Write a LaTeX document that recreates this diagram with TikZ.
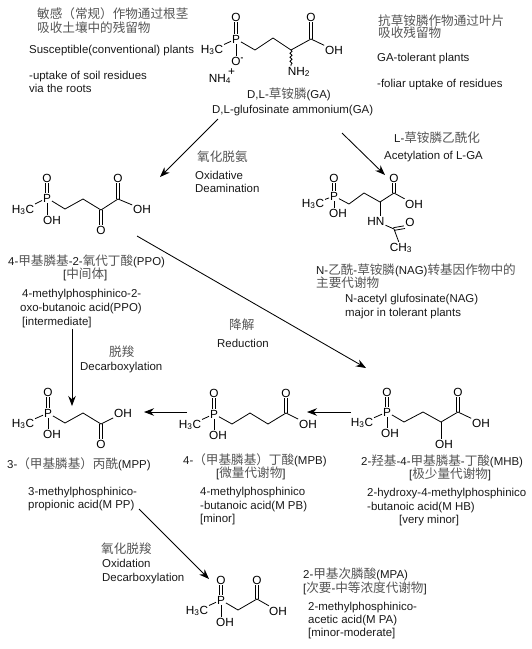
\documentclass[tikz,border=0pt]{standalone}
\usepackage{fontspec}
\setmainfont{Liberation Sans}
\newfontfamily\cjkfam{Noto Sans CJK SC}
\usetikzlibrary{arrows.meta,decorations.pathmorphing}
\definecolor{zhgray}{HTML}{555555}
\definecolor{ink}{HTML}{1A1A1A}
\newcommand\zh[1]{{\cjkfam\fontsize{12.6}{14}\selectfont\color{zhgray}#1}}
\newcommand\sub[1]{\textsubscript{#1}}
\newcommand\dblv[2]{\draw[bond] ([xshift=-1.4]#1) -- ([xshift=-1.4]#2); \draw[bond] ([xshift=1.4]#1) -- ([xshift=1.4]#2);}
\newcommand\T[4]{\node[lbl] (#1) at (#2,#3) {#4};}
\newcommand\A[4]{\node[atom] (#1) at (#2,#3) {#4};}
\newcommand\C[3]{\coordinate (#1) at (#2,#3);}
\newcommand\Arr[6]{\coordinate (#1s) at (#2,#3); \coordinate (#1e) at (#4,#5); \draw[rxn] (#1s) -- (#1e);}
\tikzset{
  lbl/.style={anchor=west,inner sep=0pt,text height=8pt,text depth=0pt,font=\fontsize{11.45}{13}\selectfont,text=ink},
  atom/.style={anchor=center,inner sep=0.8pt,font=\fontsize{11.8}{13}\selectfont,text=black},
  bond/.style={line width=0.8pt,draw=black},
  rxn/.style={line width=0.85pt,draw=black,-{Stealth[length=10pt,width=7.5pt]}},
}
\begin{document}
\begin{tikzpicture}[x=1pt,y=-1pt]
\useasboundingbox (0,0) rectangle (532,649);
\fill[white] (0,0) rectangle (532,649);

% ---- top-left text
\T{tl1}{37}{14}{\zh{敏感（常规）作物通过根茎}}
\T{tl2}{37}{28}{\zh{吸收土壤中的残留物}}
\T{tl3}{29}{49}{Susceptible(conventional) plants}
\T{tl4}{29}{75}{-uptake of soil residues}
\T{tl5}{29}{88}{via the roots}

% ---- top-right text
\T{tr1}{378}{21}{\zh{抗草铵膦作物通过叶片}}
\T{tr2}{378}{33}{\zh{吸收残留物}}
\T{tr3}{377}{57}{GA-tolerant plants}
\T{tr4}{377}{83}{-foliar uptake of residues}

% ---- GA
\A{gaP}{236}{39}{P}
\A{gaO}{236}{17}{O}
\A{gaOm}{236}{61}{O\rlap{\textsuperscript{\textbf{-}}}}
\A{gaMe}{212}{50}{H\sub{3}C}
\C{ga1}{255}{50}\C{ga2}{273}{38}\C{ga3}{291}{50}\C{ga4}{311}{39}
\A{gaO2}{311}{17}{O}
\A{gaOH}{334}{50}{OH}
\A{gaN}{299}{72}{NH\sub{2}}
\A{gaNH}{220}{79}{NH\sub{4}\rlap{\hspace{-3pt}\smash{\raisebox{1.0ex}{+}}}}
\draw[bond] (gaP) -- (gaMe);
\dblv{gaO.south}{gaP.north}
\draw[bond] (gaP) -- (gaOm);
\draw[bond] (gaP) -- (ga1) -- (ga2) -- (ga3) -- (ga4) -- (gaOH);
\dblv{gaO2.south}{ga4}
\draw[bond,decorate,decoration={snake,amplitude=1.1pt,segment length=4pt}] (ga3) -- (ga3|-gaN.north);
\T{ga5}{247}{94}{D,L-\zh{草铵膦}(GA)}
\T{ga6}{212}{109}{D,L-glufosinate ammonium(GA)}

% ---- reaction arrows (top)
\Arr{ar1}{218}{119}{160}{177}{}
\Arr{ar2}{342}{133}{385}{175}{}
\T{oa1}{197}{157}{\zh{氧化脱氨}}
\T{oa2}{195}{175}{Oxidative}
\T{oa3}{195}{188}{Deamination}
\T{ac1}{394}{138}{L-\zh{草铵膦乙酰化}}
\T{ac2}{384}{155}{Acetylation of L-GA}

% ---- PPO
\A{ppP}{47}{198}{P}
\A{ppO}{47}{178}{O}
\A{ppMe}{23}{210}{H\sub{3}C}
\A{ppOHp}{52}{220}{OH}
\C{pp1}{65}{209}\C{pp2}{83}{199}\C{pp3}{101}{210}\C{pp4}{118}{199}
\A{ppOH}{142}{209}{OH}
\A{ppO2}{118}{178}{O}
\A{ppO3}{101}{230}{O}
\draw[bond] (ppP) -- (ppMe);
\dblv{ppO.south}{ppP.north}
\draw[bond] (ppP.south) -- (ppP.south|-ppOHp.north);
\draw[bond] (ppP) -- (pp1) -- (pp2) -- (pp3) -- (pp4) -- (ppOH);
\dblv{ppO2.south}{pp4}
\dblv{pp3}{ppO3.north}
\T{pp5}{8}{261}{4-\zh{甲基膦基}-2-\zh{氧代丁酸}(PPO)}
\T{pp6}{63}{274}{[\zh{中间体}]}
\T{pp7}{22}{293}{4-methylphosphinico-2-}
\T{pp8}{20}{307}{oxo-butanoic acid(PPO)}
\T{pp9}{22}{321}{[intermediate]}

% ---- NAG
\A{naP}{334}{196}{P}
\A{naO}{334}{178}{O}
\A{naMe}{313}{204}{H\sub{3}C}
\A{naOHp}{338}{213}{OH}
\C{na1}{349}{204}\C{na2}{364}{193}\C{na3}{380}{202}\C{na4}{394}{193}
\A{naOH}{414}{204}{OH}
\A{naO2}{394}{178}{O}
\A{naN}{376}{221}{HN}
\C{na5}{394}{229}
\A{naO3}{410}{222}{O}
\A{naCH}{401}{248}{CH\sub{3}}
\draw[bond] (naP) -- (naMe);
\dblv{naO.south}{naP.north}
\draw[bond] (naP.south) -- (naP.south|-naOHp.north);
\draw[bond] (naP) -- (na1) -- (na2) -- (na3) -- (na4) -- (naOH);
\dblv{naO2.south}{na4}
\draw[bond] (na3) -- (na3|-naN.north);
\draw[bond] (naN) -- (na5) -- (naCH);
\draw[bond] ([shift={(-0.6,-1.3)}]na5) -- ([shift={(-0.6,-1.3)}]naO3.south west);
\draw[bond] ([shift={(0.6,1.3)}]na5) -- ([shift={(0.6,1.3)}]naO3.south west);
\T{na6}{316}{270}{N-\zh{乙酰}-\zh{草铵膦}(NAG)\zh{转基因作物中的}}
\T{na7}{316}{283}{\zh{主要代谢物}}
\T{na8}{345}{298}{N-acetyl glufosinate(NAG)}
\T{na9}{345}{312}{major in tolerant plants}

% ---- Reduction arrow
\Arr{ar3}{137}{236}{366}{368}{}
\T{re1}{229}{325}{\zh{降解}}
\T{re2}{217}{343}{Reduction}

% ---- Decarboxylation arrow
\Arr{ar4}{72}{329}{72}{406}{}
\T{de1}{109}{352}{\zh{脱羧}}
\T{de2}{80}{366}{Decarboxylation}

% ---- MPP
\A{mpP}{48}{413}{P}
\A{mpO}{48}{392}{O}
\A{mpMe}{23}{424}{H\sub{3}C}
\A{mpOHp}{52}{434}{OH}
\C{mp1}{65}{423}\C{mp2}{83}{413}\C{mp3}{101}{424}
\A{mpOH}{123}{413}{OH}
\A{mpO2}{101}{444}{O}
\draw[bond] (mpP) -- (mpMe);
\dblv{mpO.south}{mpP.north}
\draw[bond] (mpP.south) -- (mpP.south|-mpOHp.north);
\draw[bond] (mpP) -- (mp1) -- (mp2) -- (mp3) -- (mpOH);
\dblv{mp3}{mpO2.north}
\T{mp5}{7}{464}{3-\zh{（甲基膦基）丙酰}(MPP)}
\T{mp6}{28}{491}{3-methylphosphinico-}
\T{mp7}{28}{504}{propionic acid(M PP)}

% ---- MPB
\A{mbP}{214}{414}{P}
\A{mbO}{214}{393}{O}
\A{mbMe}{190}{425}{H\sub{3}C}
\A{mbOHp}{218}{435}{OH}
\C{mb1}{232}{424}\C{mb2}{250}{413}\C{mb3}{268}{424}\C{mb4}{286}{413}
\A{mbOH}{308}{424}{OH}
\A{mbO2}{286}{393}{O}
\draw[bond] (mbP) -- (mbMe);
\dblv{mbO.south}{mbP.north}
\draw[bond] (mbP.south) -- (mbP.south|-mbOHp.north);
\draw[bond] (mbP) -- (mb1) -- (mb2) -- (mb3) -- (mb4) -- (mbOH);
\dblv{mbO2.south}{mb4}
\T{mb5}{183}{460}{4-\zh{（甲基膦基）丁酸}(MPB)}
\T{mb6}{216}{473}{[\zh{微量代谢物}]}
\T{mb7}{200}{491}{4-methylphosphinico}
\T{mb8}{200}{505}{-butanoic acid(M PB)}
\T{mb9}{200}{518}{[minor]}

% ---- MHB
\A{mhP}{387}{412}{P}
\A{mhO}{387}{392}{O}
\A{mhMe}{362}{423}{H\sub{3}C}
\A{mhOHp}{390}{433}{OH}
\C{mh1}{404}{422}\C{mh2}{423}{412}\C{mh3}{441}{422}\C{mh4}{458}{412}
\A{mhOH}{481}{423}{OH}
\A{mhO2}{458}{392}{O}
\A{mhOH2}{444}{444}{OH}
\draw[bond] (mhP) -- (mhMe);
\dblv{mhO.south}{mhP.north}
\draw[bond] (mhP.south) -- (mhP.south|-mhOHp.north);
\draw[bond] (mhP) -- (mh1) -- (mh2) -- (mh3) -- (mh4) -- (mhOH);
\dblv{mhO2.south}{mh4}
\draw[bond] (mh3) -- (mh3|-mhOH2.north);
\T{mh5}{361}{461}{2-\zh{羟基}-4-\zh{甲基膦基}-\zh{丁酸}(MHB)}
\T{mh6}{409}{474}{[\zh{极少量代谢物}]}
\T{mh7}{367}{492}{2-hydroxy-4-methylphosphinico}
\T{mh8}{367}{506}{-butanoic acid(M HB)}
\T{mh9}{399}{519}{[very minor]}

% ---- horizontal arrows
\coordinate (ar5s) at (351,412); \coordinate (ar5e) at (307,412);
\draw[rxn] (ar5s) -- (ar5e);
\coordinate (ar6s) at (187,412); \coordinate (ar6e) at (144,412);
\draw[rxn] (ar6s) -- (ar6e);

% ---- Oxidation arrow
\Arr{ar7}{139}{509}{209}{579}{}
\T{ox1}{101}{549}{\zh{氧化脱羧}}
\T{ox2}{102}{563}{Oxidation}
\T{ox3}{102}{577}{Decarboxylation}

% ---- MPA
\A{maP}{221}{600}{P}
\A{maO}{221}{580}{O}
\A{maMe}{197}{611}{H\sub{3}C}
\A{maOHp}{225}{622}{OH}
\C{ma1}{238}{610}\C{ma2}{257}{599}
\A{maOH}{278}{611}{OH}
\A{maO2}{257}{580}{O}
\draw[bond] (maP) -- (maMe);
\dblv{maO.south}{maP.north}
\draw[bond] (maP.south) -- (maP.south|-maOHp.north);
\draw[bond] (maP) -- (ma1) -- (ma2) -- (maOH);
\dblv{maO2.south}{ma2}
\T{ma5}{303}{574}{2-\zh{甲基次膦酸}(MPA)}
\T{ma6}{303}{588}{[\zh{次要}-\zh{中等浓度代谢物}]}
\T{ma7}{308}{606}{2-methylphosphinico-}
\T{ma8}{308}{619}{acetic acid(M PA)}
\T{ma9}{308}{632}{[minor-moderate]}
\end{tikzpicture}
\end{document}
